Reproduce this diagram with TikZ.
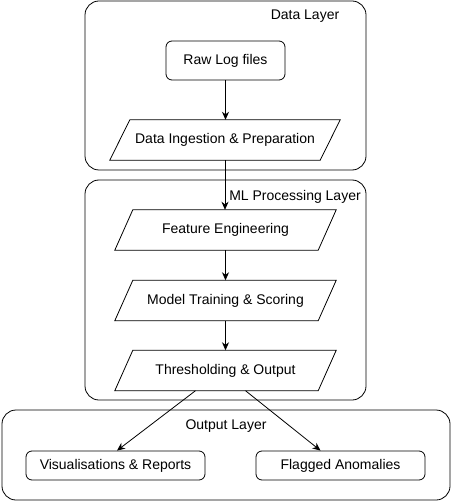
\documentclass[tikz,border=0pt]{standalone}
\usepackage{fontspec}
\setmainfont{Liberation Sans}
\usetikzlibrary{arrows.meta,calc}
\begin{document}
\begin{tikzpicture}[x=1pt,y=-1pt,
  font=\fontsize{14}{16}\selectfont,
  layer/.style={draw, line width=0.8pt, rounded corners=14pt, inner sep=0pt},
  rbox/.style={draw, line width=0.8pt, rounded corners=6pt, inner sep=0pt},
  pbox/.style={inner sep=0pt, minimum height=40pt},
  pline/.style={line width=0.8pt},
  arr/.style={line width=0.8pt, -{Stealth[length=8pt,width=7pt,inset=2.5pt]}},
  lbl/.style={inner sep=0pt}
]
\useasboundingbox (0,0) rectangle (452,502);
% layers
\node[layer, minimum width=281pt, minimum height=169pt] (dl) at (225.5,85.5) {};
\node[layer, minimum width=281pt, minimum height=220pt] (ml) at (225.5,290) {};
\node[layer, minimum width=448pt, minimum height=90pt] (ol) at (226,455) {};
\node[lbl] (dlt) at (305,16) {Data Layer};
\node[lbl] (mlt) at (295,197) {ML Processing Layer};
\node[lbl] (olt) at (226,426) {Output Layer};
% nodes
\node[rbox, minimum width=119pt, minimum height=39pt] (raw) at (225.5,60.5) {Raw Log files};
\node[pbox, minimum width=230pt] (ing) at (225,140) {Data Ingestion \& Preparation};
\node[pbox, minimum width=221pt] (fe) at (225.5,230) {Feature Engineering};
\node[pbox, minimum width=221pt] (mt) at (225.5,300.5) {Model Training \& Scoring};
\node[pbox, minimum width=221pt] (th) at (225.5,370.5) {Thresholding \& Output};
\draw[pline] ($(ing.north west)+(20,0)$) -- (ing.north east) -- ($(ing.south east)+(-20,0)$) -- (ing.south west) -- cycle;
\foreach \n in {fe,mt,th}{
  \draw[pline] ($(\n.north west)+(18,0)$) -- (\n.north east) -- ($(\n.south east)+(-18,0)$) -- (\n.south west) -- cycle;
}
\node[rbox, minimum width=179pt, minimum height=29pt] (vis) at (115.5,465.5) {Visualisations \& Reports};
\node[rbox, minimum width=169pt, minimum height=29pt] (flag) at (340.5,465.5) {Flagged Anomalies};
% connectors
\draw[arr] (raw.south) -- (ing.north -| raw.south);
\draw[arr] (ing.south) -- (fe.north -| ing.south);
\draw[arr] (fe.south) -- (mt.north);
\draw[arr] (mt.south) -- (th.north);
\draw[arr] ($(th.south)+(-30,0)$) -- ($(vis.north)+(1.5,0)$);
\draw[arr] ($(th.south)+(20,0)$) -- ($(flag.north)+(-20,0)$);
\end{tikzpicture}
\end{document}
